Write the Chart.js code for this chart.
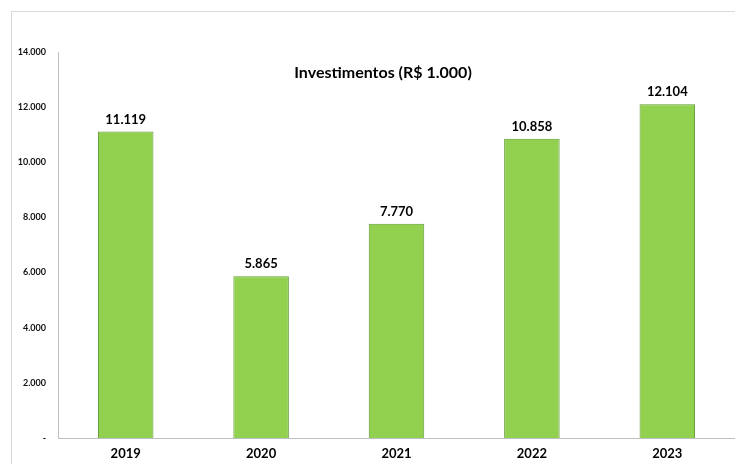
<!DOCTYPE html>
<html>
<head>
<meta charset="utf-8">
<script src="https://cdn.jsdelivr.net/npm/chart.js@4"></script>
<style>
  html, body { margin: 0; padding: 0; background: #fff; overflow: hidden; }
  #wrap { width: 735px; height: 464px; position: relative; }
</style>
</head>
<body>
<div id="wrap"><canvas id="chart" width="735" height="464"></canvas></div>
<script>
// chart data
const years = ['2019', '2020', '2021', '2022', '2023'];
const investimentos = [11119, 5865, 7770, 10858, 12104];
const yTicks = [0, 2000, 4000, 6000, 8000, 10000, 12000, 14000];
const chartTitle = 'Investimentos (R$ 1.000)';

function fmt(v) {
  if (!v) return '-';
  return String(v).replace(/\B(?=(\d{3})+(?!\d))/g, '.');
}

const extras = {
  id: 'extras',
  beforeDraw(chart) {
    const c = chart.ctx;
    c.save();
    c.strokeStyle = '#d9d9d9';
    c.lineWidth = 1;
    c.strokeRect(11.5, 11.5, 900, 900);
    c.restore();
  },
  afterDatasetsDraw(chart) {
    const c = chart.ctx;
    c.save();
    c.fillStyle = '#000';
    c.textAlign = 'center';
    c.textBaseline = 'middle';
    c.font = 'bold 16px Lato';
    c.fillText(chartTitle, 383, 73);
    c.font = 'bold 13px Lato';
    chart.getDatasetMeta(0).data.forEach((bar, i) => {
      c.fillText(fmt(investimentos[i]), bar.x, bar.y - 12);
    });
    c.restore();
  }
};

new Chart(document.getElementById('chart'), {
  type: 'bar',
  data: {
    labels: years,
    datasets: [{
      data: investimentos,
      backgroundColor: '#92d050',
      borderColor: '#5f9a30',
      borderWidth: 1,
      barPercentage: 0.41,
      categoryPercentage: 1
    }]
  },
  options: {
    responsive: false,
    animation: false,
    layout: { padding: { top: 52, left: 0, right: 0, bottom: 0 } },
    plugins: { legend: { display: false }, tooltip: { enabled: false } },
    scales: {
      x: {
        grid: { display: false, drawTicks: false },
        border: { color: '#bfbfbf', width: 1 },
        ticks: { color: '#000', font: { family: 'Lato', weight: 'bold', size: 13 }, padding: 8 },
        afterFit(s) { s.height = 26; }
      },
      y: {
        min: 0, max: 14000,
        afterBuildTicks(s) { s.ticks = yTicks.map(v => ({ value: v })); },
        grid: { display: false, drawTicks: false },
        border: { color: '#bfbfbf', width: 1 },
        ticks: {
          color: '#111',
          font: { family: 'Lato', weight: 'bold', size: 9 },
          padding: 12,
          callback: v => fmt(v)
        },
        afterFit(s) { s.width = 58; }
      }
    }
  },
  plugins: [extras]
});
</script>
</body>
</html>
